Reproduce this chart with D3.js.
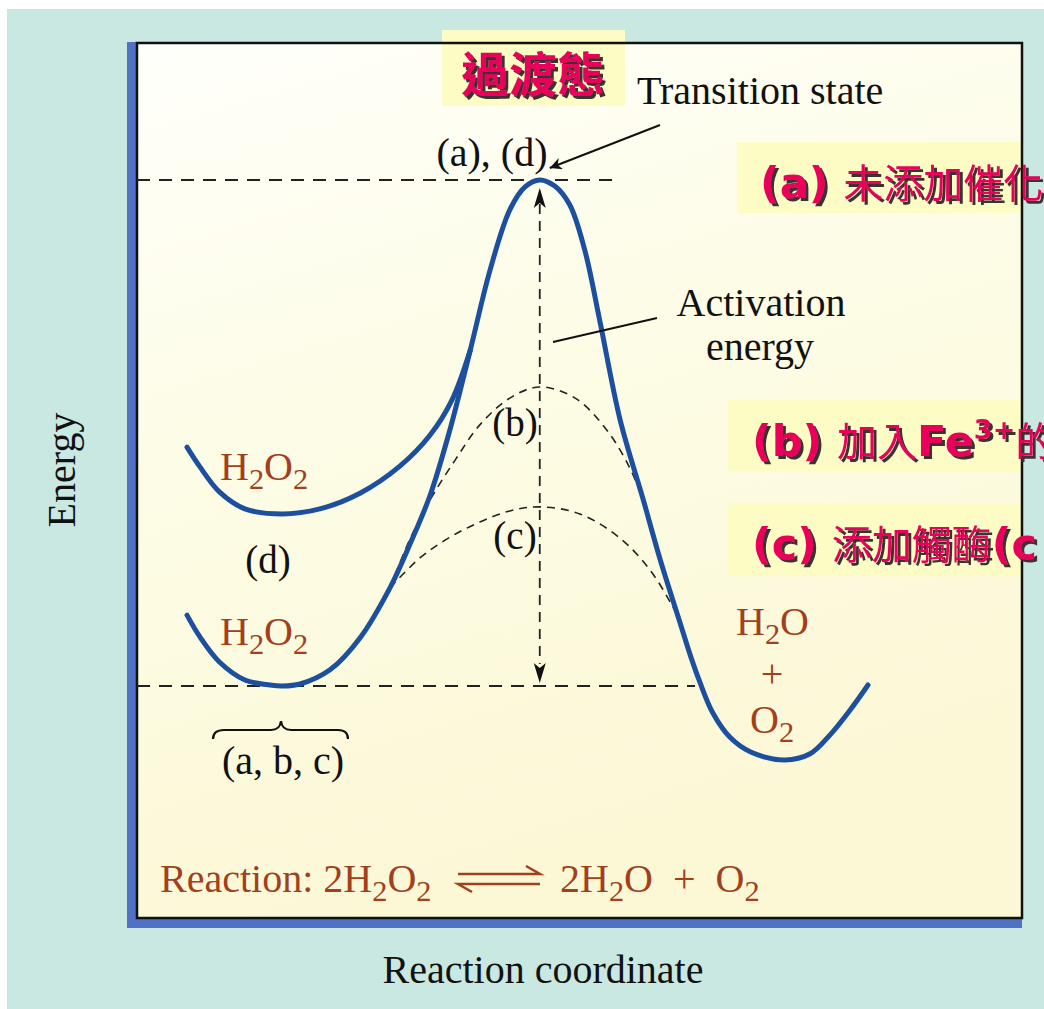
<!DOCTYPE html>
<html><head><meta charset="utf-8">
<script src="https://cdn.jsdelivr.net/npm/d3@7/dist/d3.min.js"></script>
<style>body{margin:0;background:#fff;overflow:hidden}svg{display:block}</style>
</head><body>
<script>
// ---- data (reaction coordinate 0..100, energy: reactant level 0, uncatalysed peak 100) ----
const uncatalysedPath = [[0,14.0],[1.9,9.7],[4.8,4.7],[8.5,1.2],[12.2,0.2],[14.0,0],[16.6,0.4],[21.0,3.2],[25.4,9.5],[29.8,19.4],[32.7,27.9],[35.7,37.7],[38.6,50.6],[41.6,66.4],[44.5,82.2],[47.4,94.1],[49.6,98.6],[51.8,100],[54.0,98.8],[56.2,95.1],[58.4,86.2],[60.6,72.3],[63.6,52.6],[67.0,36.8],[69.5,24.9],[72.4,12.5],[73.9,6.1],[75.3,0.8],[77.2,-5.3],[79.7,-10.1],[82.7,-13.0],[87.8,-14.6],[91.5,-13.4],[94.4,-9.7],[97.4,-4.7],[100,0.2]];
const curveDBranch = [[0,47.2],[1.9,43.3],[4.8,38.3],[8.5,35.0],[14.0,34.0],[19.5,35.0],[25.4,38.1],[31.3,43.5],[35.7,49.6],[38.9,56.5],[41.6,66.4]];
const fe3Path = [[29.8,19.4],[32.7,28.9],[35.7,36.8],[39.4,44.7],[43.0,51.6],[47.4,56.9],[51.8,59.1],[57.0,56.9],[61.4,51.0],[64.8,43.7],[67.3,35.8]];
const catalasePath = [[29.8,19.4],[34.2,25.3],[38.6,29.4],[43.0,32.4],[47.4,34.6],[51.8,35.4],[57.7,34.0],[63.6,29.2],[68.0,22.9],[71.2,16.0],[72.7,12.1]];
const peakX = 51.8, peakEnergy = 100, reactantEnergy = 0;
const caseLabels = ["(a)", "(b)", "(c)"];

const W = 1044, H = 1009;
const svg = d3.select("body").append("svg").attr("width", W).attr("height", H);
const defs = svg.append("defs");
const grad = defs.append("linearGradient").attr("id","pg").attr("x1","0").attr("y1","0").attr("x2","0.3").attr("y2","1");
grad.append("stop").attr("offset","0").attr("stop-color","#fffffb");
grad.append("stop").attr("offset","0.45").attr("stop-color","#fdfce6");
grad.append("stop").attr("offset","1").attr("stop-color","#fcf8d6");
defs.append("marker").attr("id","ah").attr("viewBox","0 0 10 10").attr("refX",10).attr("refY",5)
  .attr("markerWidth",18).attr("markerHeight",12).attr("markerUnits","userSpaceOnUse").attr("orient","auto")
  .append("path").attr("d","M0,0 L10,5 L0,10 L3,5 Z").attr("fill","#111");
const sh = defs.append("filter").attr("id","shadow").attr("x","-5%").attr("y","-20%").attr("width","115%").attr("height","150%");
sh.append("feOffset").attr("in","SourceAlpha").attr("dx",2.5).attr("dy",2.5).attr("result","off");
sh.append("feFlood").attr("flood-color","#3a3030").attr("result","fl");
sh.append("feComposite").attr("in","fl").attr("in2","off").attr("operator","in").attr("result","shd");
const mg = sh.append("feMerge");
mg.append("feMergeNode").attr("in","shd");
mg.append("feMergeNode").attr("in","SourceGraphic");

// background
svg.append("rect").attr("x",7).attr("y",9).attr("width",W-7).attr("height",H-9).attr("fill","#c8e8e1");
const P = {l:137, t:43, r:1022, b:918};
svg.append("rect").attr("x",127).attr("y",42).attr("width",P.r-127).attr("height",928-42).attr("fill","#4f72c4");
svg.append("rect").attr("x",P.l).attr("y",P.t).attr("width",P.r-P.l).attr("height",P.b-P.t).attr("fill","url(#pg)");

const x = d3.scaleLinear().domain([0,100]).range([187,868]);
const y = d3.scaleLinear().domain([0,100]).range([686,180]);
const line = d3.line().x(d=>x(d[0])).y(d=>y(d[1])).curve(d3.curveCatmullRom.alpha(0.5));

// highlight boxes
const boxFill = "#fdfcc4";
svg.append("rect").attr("x",442).attr("y",30).attr("width",183).attr("height",76).attr("fill",boxFill);
svg.append("rect").attr("x",737).attr("y",142).attr("width",P.r-737).attr("height",71).attr("fill",boxFill);
svg.append("rect").attr("x",728).attr("y",400).attr("width",P.r-728).attr("height",71).attr("fill",boxFill);
svg.append("rect").attr("x",728).attr("y",503).attr("width",P.r-728).attr("height",72).attr("fill",boxFill);

// panel border
svg.append("rect").attr("x",P.l).attr("y",P.t).attr("width",P.r-P.l).attr("height",P.b-P.t)
  .attr("fill","none").attr("stroke","#111").attr("stroke-width",2.5);

// dashed reference lines
const dash = "13,9";
svg.append("line").attr("x1",P.l).attr("x2",x(62.8)).attr("y1",y(peakEnergy)).attr("y2",y(peakEnergy))
  .attr("stroke","#222").attr("stroke-width",1.8).attr("stroke-dasharray",dash);
svg.append("line").attr("x1",P.l).attr("x2",x(74.6)).attr("y1",y(reactantEnergy)).attr("y2",y(reactantEnergy))
  .attr("stroke","#222").attr("stroke-width",1.8).attr("stroke-dasharray",dash);

// catalysed curves (dashed)
[fe3Path, catalasePath].forEach(p => svg.append("path").attr("d",line(p)).attr("fill","none")
  .attr("stroke","#222").attr("stroke-width",1.6).attr("stroke-dasharray","8,6"));

// activation energy double arrow
const ax = x(peakX);
svg.append("line").attr("x1",ax).attr("x2",ax).attr("y1",y(peakEnergy)+24).attr("y2",y(reactantEnergy)-22)
  .attr("stroke","#222").attr("stroke-width",1.8).attr("stroke-dasharray","10,7");
svg.append("path").attr("d",`M${ax},${y(peakEnergy)+8} L${ax+6},${y(peakEnergy)+28} L${ax},${y(peakEnergy)+23} L${ax-6},${y(peakEnergy)+28} Z`).attr("fill","#111");
svg.append("path").attr("d",`M${ax},${y(reactantEnergy)-3} L${ax+6},${y(reactantEnergy)-23} L${ax},${y(reactantEnergy)-18} L${ax-6},${y(reactantEnergy)-23} Z`).attr("fill","#111");

// blue curves
const blue = "#1d4f9f";
[uncatalysedPath, curveDBranch].forEach(p => svg.append("path").attr("d",line(p)).attr("fill","none")
  .attr("stroke",blue).attr("stroke-width",5).attr("stroke-linecap","round"));

// pointers
svg.append("line").attr("x1",660).attr("y1",125).attr("x2",x(peakX)+10).attr("y2",y(peakEnergy)-12)
  .attr("stroke","#111").attr("stroke-width",2).attr("marker-end","url(#ah)");
svg.append("line").attr("x1",657).attr("y1",318).attr("x2",553).attr("y2",342).attr("stroke","#111").attr("stroke-width",2);

// serif texts
const serif = "'Liberation Serif','Times New Roman',serif";
const brown = "#a23f1c";
function txt(xx, yy, opts={}) {
  return svg.append("text").attr("x",xx).attr("y",yy).attr("font-family",serif)
    .attr("font-size",opts.size||40).attr("fill",opts.fill||"#111").attr("text-anchor",opts.anchor||"start")
    .attr("xml:space","preserve");
}
function chem(t, parts, size) {
  let off = 0;
  const drop = 9;
  parts.forEach(p => {
    if (typeof p === "string") { t.append("tspan").attr("dy",-off).text(p); off = 0; }
    else { t.append("tspan").attr("font-size",size*0.76).attr("dy",drop-off).text(p.sub); off = drop; }
  });
  return t;
}
txt(637,104).text("Transition state");
txt(492,166,{anchor:"middle"}).text("(a), (d)");
txt(761,316,{anchor:"middle"}).text("Activation");
txt(760,360,{anchor:"middle"}).text("energy");
txt(515,436,{anchor:"middle",size:39}).text("(b)");
txt(515,549,{anchor:"middle",size:39}).text("(c)");
txt(268,573,{anchor:"middle",size:39}).text("(d)");
txt(283,774,{anchor:"middle"}).text("(a, b, c)");
chem(txt(220,480,{fill:brown}), ["H",{sub:"2"},"O",{sub:"2"}], 40);
chem(txt(220,645,{fill:brown}), ["H",{sub:"2"},"O",{sub:"2"}], 40);
chem(txt(736,635,{fill:brown}), ["H",{sub:"2"},"O"], 40);
txt(772,687,{fill:brown,anchor:"middle"}).text("+");
chem(txt(750,733,{fill:brown}), ["O",{sub:"2"}], 40);
chem(txt(160,892,{fill:brown}), ["Reaction: 2H",{sub:"2"},"O",{sub:"2"}], 40);
chem(txt(560,892,{fill:brown}), ["2H",{sub:"2"},"O\u00a0 + \u00a0O",{sub:"2"}], 40);
// equilibrium harpoons
svg.append("path").attr("d","M458,874 L540,874 L526,866").attr("fill","none").attr("stroke",brown).attr("stroke-width",2.5);
svg.append("path").attr("d","M540,884 L458,884 L472,892").attr("fill","none").attr("stroke",brown).attr("stroke-width",2.5);

// brace
svg.append("path").attr("d","M213,739 Q213,730 224,730 L271,730 Q280,730 281,721 Q282,730 291,730 L338,730 Q348,730 348,739")
  .attr("fill","none").attr("stroke","#111").attr("stroke-width",2.2);

// axis titles
txt(0,0,{anchor:"middle"}).attr("transform","translate(75,470) rotate(-90)").text("Energy");
txt(543,983,{anchor:"middle"}).text("Reaction coordinate");

// Chinese annotations with drop shadow
const red = "#e8005a";
const cjk = "'Noto Sans CJK TC','Noto Sans CJK SC',sans-serif";
const latinB = "'DejaVu Sans',Verdana,sans-serif";
function note(xx, yy, build) {
  const t = svg.append("text").attr("x",xx).attr("y",yy).attr("fill",red).attr("font-size",40)
    .attr("xml:space","preserve").attr("filter","url(#shadow)");
  build(t);
}
note(461,92,t => t.append("tspan").attr("font-family",cjk).attr("font-weight",700).attr("font-size",48).text("過渡態"));
note(760,198,t => {
  t.append("tspan").attr("font-family",latinB).attr("font-weight",700).attr("font-size",43).text(caseLabels[0]+" ");
  t.append("tspan").attr("font-family",cjk).attr("font-weight",400).text("未添加催化");
});
note(752,456,t => {
  t.append("tspan").attr("font-family",latinB).attr("font-weight",700).attr("font-size",43).text(caseLabels[1]+" ");
  t.append("tspan").attr("font-family",cjk).attr("font-weight",400).text("加入");
  t.append("tspan").attr("font-family",latinB).attr("font-weight",700).attr("font-size",43).text("Fe");
  t.append("tspan").attr("font-family",latinB).attr("font-weight",700).attr("font-size",27).attr("dy",-17).text("3+");
  t.append("tspan").attr("font-family",cjk).attr("font-weight",400).attr("dy",17).text("的");
});
note(752,559,t => {
  t.append("tspan").attr("font-family",latinB).attr("font-weight",700).attr("font-size",43).text(caseLabels[2]+" ");
  t.append("tspan").attr("font-family",cjk).attr("font-weight",400).text("添加觸酶");
  t.append("tspan").attr("font-family",latinB).attr("font-weight",700).attr("font-size",43).text("(c");
});
</script>
</body></html>
